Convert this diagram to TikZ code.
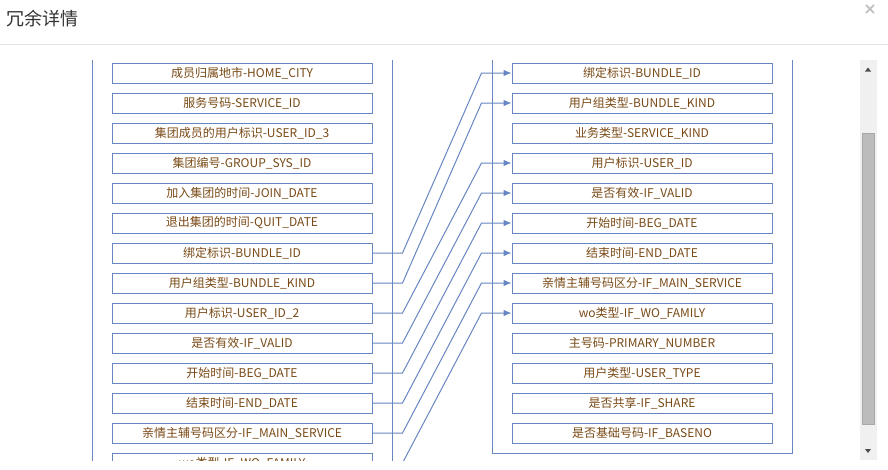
\documentclass[tikz,border=0pt]{standalone}
\usepackage{fontspec}
\setmainfont{Noto Sans CJK SC}
\newfontfamily\xfont{DejaVu Sans}
\usetikzlibrary{arrows.meta,calc}
\definecolor{bordc}{RGB}{104,134,194}
\definecolor{txtc}{RGB}{122,74,22}
\definecolor{sepc}{RGB}{229,229,229}
\definecolor{trackc}{RGB}{240,240,240}
\definecolor{thumbc}{RGB}{188,188,188}
\definecolor{thumbb}{RGB}{168,168,168}
\tikzset{
  fieldbox/.style={draw=bordc, line width=0.75pt, text=txtc, minimum width=195pt, minimum height=15pt, inner sep=0pt, font=\fontsize{9pt}{10pt}\selectfont},
  grpline/.style={draw=bordc, line width=0.75pt},
  conn/.style={draw=bordc, line width=0.75pt, -{Latex[length=6pt,width=5pt]}},
}
\begin{document}
\begin{tikzpicture}[x=0.75pt,y=-0.75pt]
\useasboundingbox[fill=white] (0,0) rectangle (888,469);
% header
\node[anchor=west, inner sep=0pt, text={rgb,255:red,51;green,51;blue,51}, font=\fontsize{13.5pt}{15pt}\selectfont] (title) at (6,19) {冗余详情};
\node[inner sep=0pt, text={rgb,255:red,190;green,190;blue,190}, font=\xfont\bfseries\fontsize{12pt}{13pt}\selectfont] (close) at (870,10) {×};
\draw[sepc, line width=0.75pt] (0,44) -- (888,44);
% scrollbar
\fill[trackc] (860,60) rectangle (877,460);
\draw[fill=thumbc, draw=thumbb, line width=0.6pt] (862.5,133.5) rectangle (874.5,424.5);
\fill[black!70] (865,71.5) -- (871,71.5) -- (868,67.5) -- cycle;
\fill[black!70] (865,449) -- (871,449) -- (868,453) -- cycle;
\begin{scope}
\clip (0,60) rectangle (888,460);
% group containers
\draw[grpline] (92,40) -- (92,480);
\draw[grpline] (392,40) -- (392,480);
\draw[grpline] (492,40) -- (492,453.5) -- (792,453.5) -- (792,40);
% left boxes
\node[fieldbox] (L1) at (242,73) {成员归属地市-HOME\_CITY};
\node[fieldbox] (L2) at (242,103) {服务号码-SERVICE\_ID};
\node[fieldbox] (L3) at (242,133) {集团成员的用户标识-USER\_ID\_3};
\node[fieldbox] (L4) at (242,163) {集团编号-GROUP\_SYS\_ID};
\node[fieldbox] (L5) at (242,193) {加入集团的时间-JOIN\_DATE};
\node[fieldbox] (L6) at (242,223) {退出集团的时间-QUIT\_DATE};
\node[fieldbox] (L7) at (242,253) {绑定标识-BUNDLE\_ID};
\node[fieldbox] (L8) at (242,283) {用户组类型-BUNDLE\_KIND};
\node[fieldbox] (L9) at (242,313) {用户标识-USER\_ID\_2};
\node[fieldbox] (L10) at (242,343) {是否有效-IF\_VALID};
\node[fieldbox] (L11) at (242,373) {开始时间-BEG\_DATE};
\node[fieldbox] (L12) at (242,403) {结束时间-END\_DATE};
\node[fieldbox] (L13) at (242,433) {亲情主辅号码区分-IF\_MAIN\_SERVICE};
\node[fieldbox] (L14) at (242,463) {wo类型-IF\_WO\_FAMILY};
% right boxes
\node[fieldbox] (R1) at (642,73) {绑定标识-BUNDLE\_ID};
\node[fieldbox] (R2) at (642,103) {用户组类型-BUNDLE\_KIND};
\node[fieldbox] (R3) at (642,133) {业务类型-SERVICE\_KIND};
\node[fieldbox] (R4) at (642,163) {用户标识-USER\_ID};
\node[fieldbox] (R5) at (642,193) {是否有效-IF\_VALID};
\node[fieldbox] (R6) at (642,223) {开始时间-BEG\_DATE};
\node[fieldbox] (R7) at (642,253) {结束时间-END\_DATE};
\node[fieldbox] (R8) at (642,283) {亲情主辅号码区分-IF\_MAIN\_SERVICE};
\node[fieldbox] (R9) at (642,313) {wo类型-IF\_WO\_FAMILY};
\node[fieldbox] (R10) at (642,343) {主号码-PRIMARY\_NUMBER};
\node[fieldbox] (R11) at (642,373) {用户类型-USER\_TYPE};
\node[fieldbox] (R12) at (642,403) {是否共享-IF\_SHARE};
\node[fieldbox] (R13) at (642,433) {是否基础号码-IF\_BASENO};
% connectors
\foreach \a/\b in {L7/R1,L8/R2,L9/R4,L10/R5,L11/R6,L12/R7,L13/R8,L14/R9}{
  \draw[conn] (\a.east) -- ($(\a.east)+(30,0)$) -- ($(\b.west)+(-30,0)$) -- (\b.west);
}
\end{scope}
\end{tikzpicture}
\end{document}
